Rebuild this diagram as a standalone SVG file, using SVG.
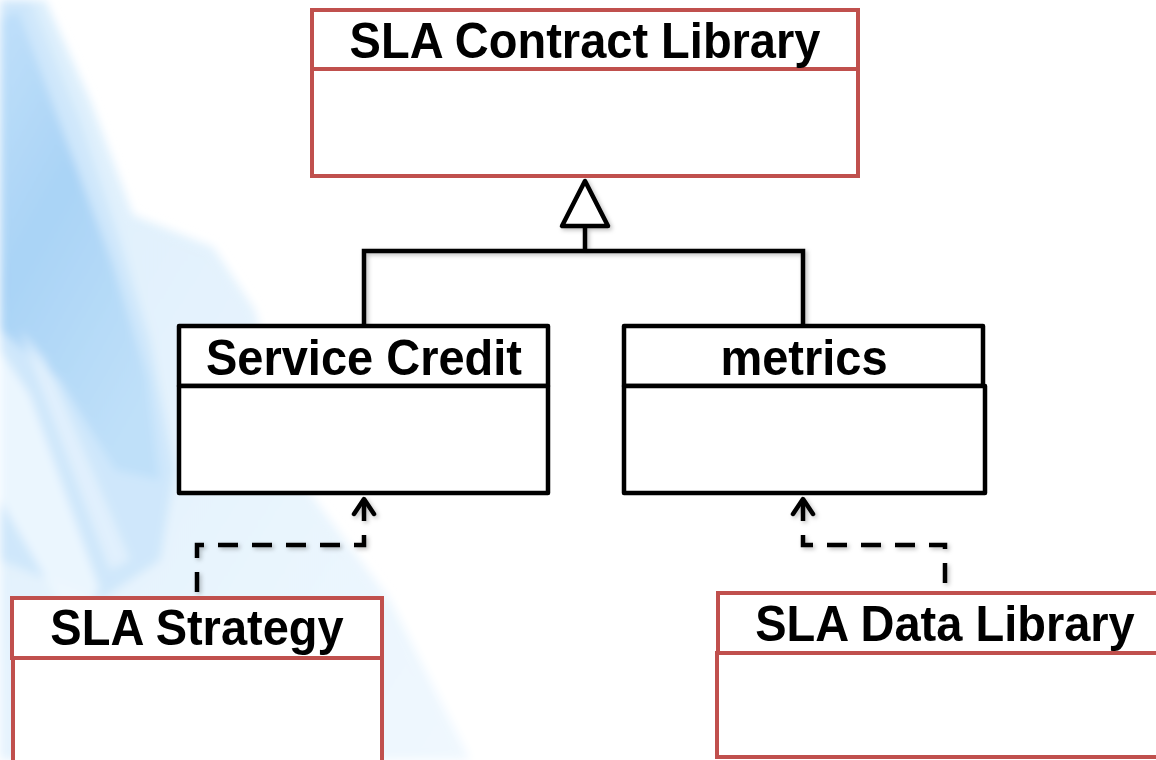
<svg xmlns="http://www.w3.org/2000/svg" width="1156" height="760" viewBox="0 0 1156 760">
  <defs>
    <filter id="soft" x="-20%" y="-20%" width="140%" height="140%">
      <feGaussianBlur stdDeviation="5"/>
    </filter>
    <filter id="shade" x="-10%" y="-10%" width="130%" height="130%">
      <feDropShadow dx="2" dy="2" stdDeviation="2" flood-color="#000" flood-opacity="0.25"/>
    </filter>
    <linearGradient id="haze" x1="0" y1="0" x2="1" y2="1">
      <stop offset="0" stop-color="#dbeefc"/>
      <stop offset="1" stop-color="#f0f8fe"/>
    </linearGradient>
    <linearGradient id="band" x1="0" y1="0" x2="0.6" y2="1">
      <stop offset="0" stop-color="#c0e0fa"/>
      <stop offset="0.45" stop-color="#a9d3f6"/>
      <stop offset="1" stop-color="#bfe0f9"/>
    </linearGradient>
    <marker id="open" viewBox="0 0 24 24" refX="20" refY="12" markerWidth="24" markerHeight="24" markerUnits="userSpaceOnUse" orient="auto-start-reverse" overflow="visible">
      <path d="M5,2 L20,12 L5,22" fill="none" stroke="#000" stroke-width="4.5" stroke-linecap="round" stroke-linejoin="round"/>
    </marker>
  </defs>
  <style>
    .title { font-family: "Liberation Sans", Arial, sans-serif; font-weight: bold; font-size: 47px; fill: #000; text-anchor: middle; }
    .red { fill: #fff; stroke: #C0504D; stroke-width: 4; }
    .blk { fill: #fff; stroke: #000; stroke-width: 4.5; stroke-linejoin: round; }
    .line { fill: none; stroke: #000; stroke-width: 4.5; stroke-linejoin: miter; }
    .dash { fill: none; stroke: #000; stroke-width: 4.5; stroke-dasharray: 20 14; stroke-dashoffset: -2; }
  </style>

  <!-- page background with soft blue swooshes on the left -->
  <rect width="1156" height="760" fill="#fff"/>
  <g id="backdrop" filter="url(#soft)">
    <polygon points="0,0 45,0 90,100 133,215 213,247 255,310 300,480 390,600 470,760 0,760" fill="url(#haze)"/>
    <polygon points="0,0 30,0 80,120 120,240 150,340 175,470 160,560 100,600 0,560" fill="#cfe7fb"/>
    <polygon points="0,20 18,10 70,150 112,262 148,380 160,480 115,470 60,380 0,330" fill="url(#band)"/>
    <polygon points="0,350 30,395 100,590 70,620 0,500" fill="#f0f8fe" opacity="0.85"/>
    <polygon points="20,330 45,360 130,560 110,570" fill="#e8f4fd" opacity="0.7"/>
  </g>

  <!-- connectors -->
  <g id="connectors" filter="url(#shade)">
    <polygon points="585,181 562,226 608,226" fill="#fff" stroke="#000" stroke-width="4.5" stroke-linejoin="round"/>
    <path class="line" d="M585,226 V251 M364,326 V251 H803 V326"/>
    <path class="dash" d="M364,499 V545 H197 V598" marker-start="url(#open)"/>
    <path class="dash" d="M803,499 V545 H945 V593" marker-start="url(#open)"/>
  </g>

  <!-- nodes -->
  <g id="sla-contract-library">
    <rect class="red" x="312" y="10" width="546" height="59"/>
    <rect class="red" x="312" y="69" width="546" height="107"/>
    <text class="title" transform="translate(585,58) scale(1,1.08)">SLA Contract Library</text>
  </g>

  <g id="service-credit">
    <rect class="blk" x="179" y="326" width="369" height="60"/>
    <rect class="blk" x="179" y="386" width="369" height="107"/>
    <text class="title" transform="translate(364,375) scale(1,1.08)">Service Credit</text>
  </g>

  <g id="metrics">
    <rect class="blk" x="624" y="326" width="359" height="60"/>
    <rect class="blk" x="624" y="386" width="361" height="107"/>
    <text class="title" transform="translate(804,375) scale(1,1.08)">metrics</text>
  </g>

  <g id="sla-strategy">
    <rect class="red" x="12" y="598" width="370" height="60"/>
    <rect class="red" x="13" y="658" width="369" height="120"/>
    <text class="title" transform="translate(197,645) scale(1,1.08)">SLA Strategy</text>
  </g>

  <g id="sla-data-library">
    <rect class="red" x="718" y="593" width="480" height="60"/>
    <rect class="red" x="717" y="653" width="481" height="104"/>
    <text class="title" transform="translate(945,641) scale(1,1.08)">SLA Data Library</text>
  </g>
</svg>
